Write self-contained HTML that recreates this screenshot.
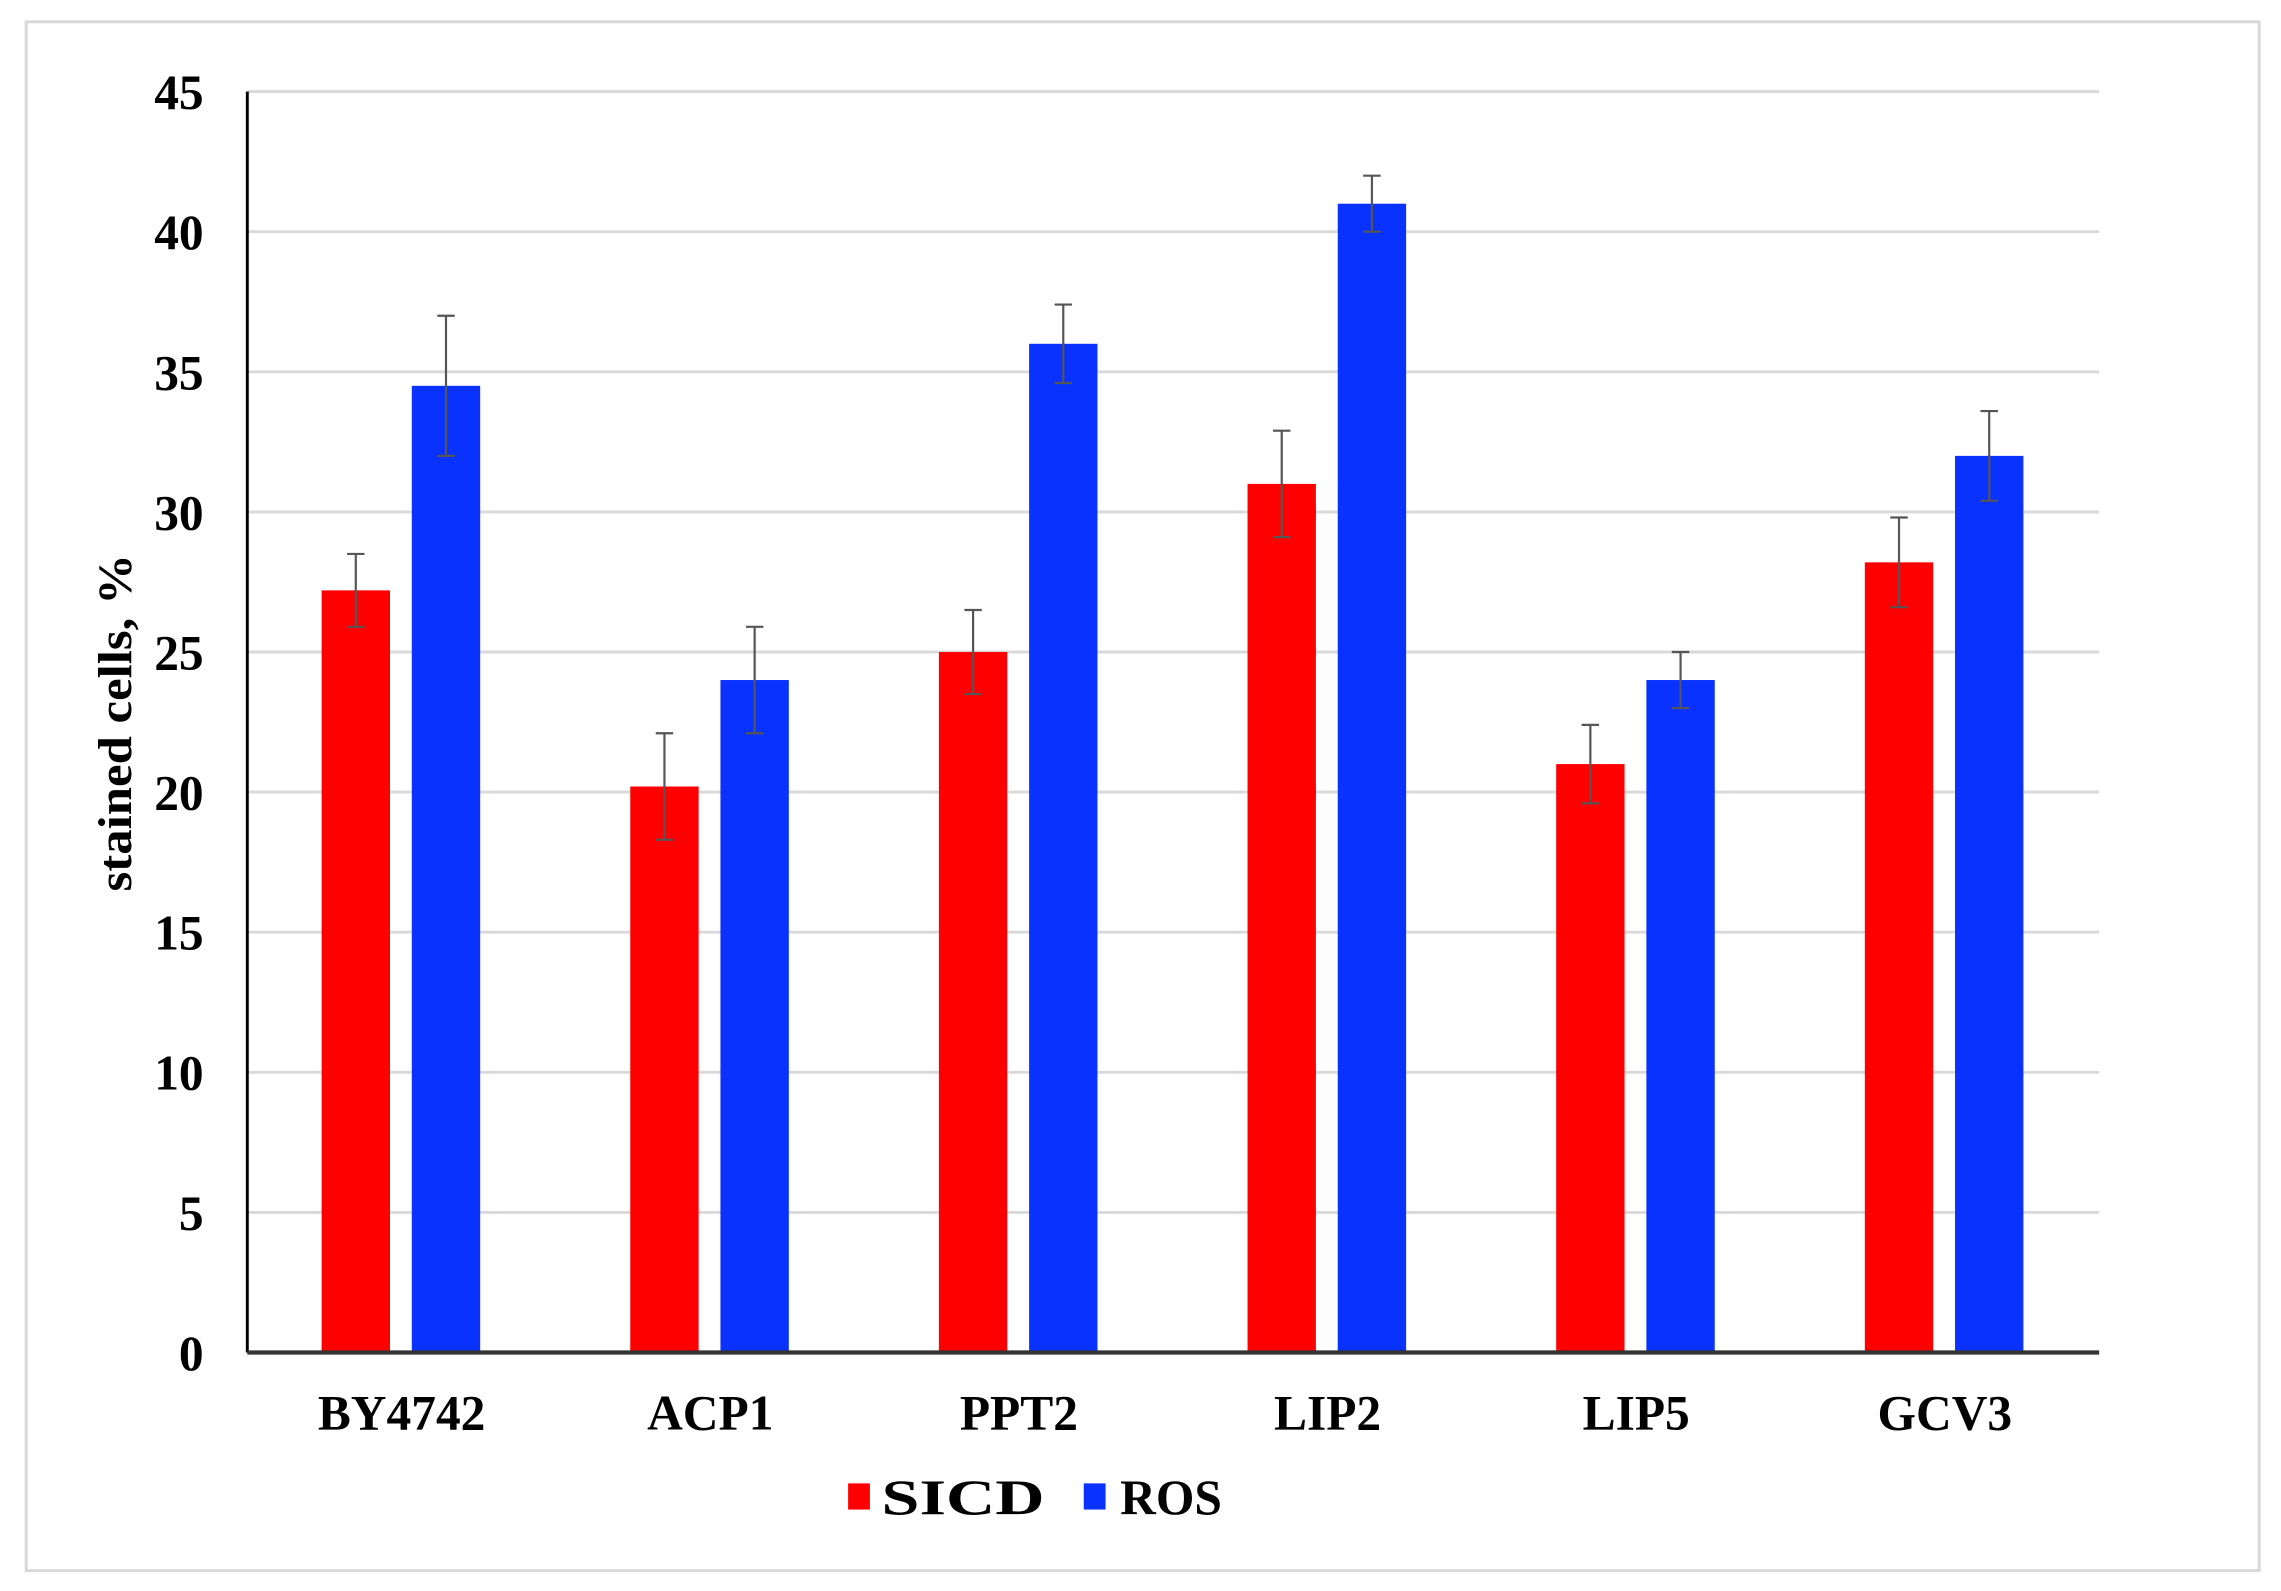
<!DOCTYPE html>
<html><head><meta charset="utf-8"><style>
html,body{margin:0;padding:0;background:#fff;}
svg{display:block;}
text{font-family:"Liberation Serif",serif;font-weight:bold;fill:#000;}
</style></head><body>
<svg id="chart" width="2281" height="1591" viewBox="0 0 1568 1094" preserveAspectRatio="none" xmlns="http://www.w3.org/2000/svg">
<rect x="18" y="15" width="1535" height="1065" fill="#fff" stroke="#d8d8d8" stroke-width="2"/>
<g id="grid"></g>
<g id="bars"></g>
<g id="axes"></g>
<text transform="translate(90,497) rotate(-90)" text-anchor="middle" font-size="33" textLength="232" lengthAdjust="spacingAndGlyphs">stained cells, %</text>
<g>
<rect x="583" y="1020" width="15" height="18" fill="#ff0000"/>
<text x="606" y="1041" font-size="34" textLength="112" lengthAdjust="spacingAndGlyphs">SICD</text>
<rect x="745" y="1020" width="15" height="18" fill="#0a32ff"/>
<text x="770" y="1041" font-size="34" textLength="70" lengthAdjust="spacingAndGlyphs">ROS</text>
</g>
</svg>
<script>
const categories = ["BY4742","ACP1","PPT2","LIP2","LIP5","GCV3"];
const sicd = [27.2, 20.2, 25.0, 31.0, 21.0, 28.2];
const sicdErr = [1.3, 1.9, 1.5, 1.9, 1.4, 1.6];
const ros = [34.5, 24.0, 36.0, 41.0, 24.0, 32.0];
const rosErr = [2.5, 1.9, 1.4, 1.0, 1.0, 1.6];
const yTicks = [0,5,10,15,20,25,30,35,40,45];

const NS = "http://www.w3.org/2000/svg";
const X0 = 170, X1 = 1443, Y0 = 930, Y45 = 63;
const yScale = v => Y0 - (v / 45) * (Y0 - Y45);
const band = (X1 - X0) / categories.length;
const xCenter = i => X0 + band * (i + 0.5);
function mk(tag, attrs, parent) {
  const e = document.createElementNS(NS, tag);
  for (const k in attrs) e.setAttribute(k, attrs[k]);
  parent.appendChild(e);
  return e;
}
const grid = document.getElementById('grid');
const bars = document.getElementById('bars');
const axes = document.getElementById('axes');
yTicks.forEach(t => {
  if (t > 0) {
    const l = mk('line', {x1: X0, x2: X1, y1: yScale(t), y2: yScale(t), stroke: '#d9d9d9', 'stroke-width': 2}, grid);
    
    
  }
  const tx = mk('text', {x: 140, y: yScale(t) + 12, 'text-anchor': 'end', 'font-size': 34}, axes);
  tx.textContent = t;
  
  
});
const series = [
  {name: 'sicd', vals: sicd, errs: sicdErr, color: '#ff0000', off: -55},
  {name: 'ros', vals: ros, errs: rosErr, color: '#0a32ff', off: 7}
];
const bw = 47;
categories.forEach((c, i) => {
  series.forEach(s => {
    const x = xCenter(i) + s.off;
    const v = s.vals[i];
    const r = mk('rect', {x: x, y: yScale(v), width: bw, height: Y0 - yScale(v), fill: s.color}, bars);
    
    
    const cx = x + bw / 2;
    const e = s.errs[i];
    const g = mk('g', {stroke: '#555', 'stroke-width': 1.5}, bars);
    
    
    mk('line', {x1: cx, x2: cx, y1: yScale(v + e), y2: yScale(v - e)}, g);
    mk('line', {x1: cx - 6, x2: cx + 6, y1: yScale(v + e), y2: yScale(v + e)}, g);
    mk('line', {x1: cx - 6, x2: cx + 6, y1: yScale(v - e), y2: yScale(v - e)}, g);
  });
  const t = mk('text', {x: xCenter(i), y: 983, 'text-anchor': 'middle', 'font-size': 34}, axes);
  t.textContent = c;
  
  
});
const ya = mk('line', {x1: X0, x2: X0, y1: Y45, y2: Y0, stroke: '#000', 'stroke-width': 2}, axes);


const xa = mk('line', {x1: X0, x2: X1, y1: Y0, y2: Y0, stroke: '#333', 'stroke-width': 3}, axes);


</script>
</body></html>
